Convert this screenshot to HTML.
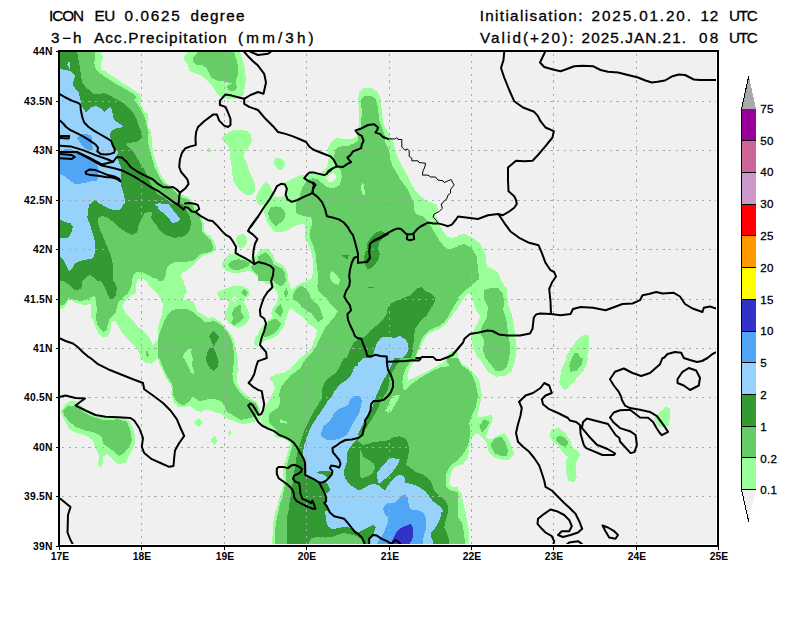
<!DOCTYPE html><html><head><meta charset="utf-8"><title>ICON EU precipitation</title>
<style>html,body{margin:0;padding:0;background:#fff}svg{display:block}text{font-family:"Liberation Sans",sans-serif;fill:#000}</style></head><body>
<svg width="800" height="618" viewBox="0 0 800 618">
<rect width="800" height="618" fill="#fff"/>
<defs><clipPath id="m"><rect x="60" y="52" width="656" height="492"/></clipPath></defs>
<rect x="60" y="52" width="656" height="492" fill="#f0f0f0" shape-rendering="crispEdges"/>
<g clip-path="url(#m)" shape-rendering="crispEdges">
<polygon fill="#99ff99" points="58,50 100.5,50 100.5,51.9 102.8,56.2 102.4,60.6 100.5,63.8 101.1,70 105.5,71.5 110.5,75 116.8,78.8 121.8,82.8 128,86.2 134.2,90.6 139.2,93.8 141.1,96.9 140.5,102.5 141.8,107.5 145.5,112.5 148.2,115 148.2,127 58,127"/>
<polygon fill="#99ff99" points="183,57.5 186.8,53.8 190.5,50 239.2,50 241.8,57.5 244.2,65 245.5,75 245.5,82.5 244.2,91.2 243,95.6 238,98.1 231.8,99.4 225.5,98.1 220.5,96.9 216.8,93.8 214.2,88.8 210.5,83.8 205.5,78.8 200.5,75 194.2,73.1 189.2,70.6 188,65 184.9,61.2"/>
<polygon fill="#99ff99" points="58,127 148.2,127 150.5,130.8 151.8,138.2 152.4,147 153.6,155.8 156.1,163.2 158,168.2 158,204 58,204"/>
<polygon fill="#99ff99" points="221.1,138.9 225.5,133.9 231.8,130.8 239.2,129.5 246.8,130.8 251.1,135.1 251.8,140.1 249.9,145.8 245.5,150.8 243.6,155.8 246.8,163.2 249.2,170.8 252.4,178.2 255.5,185.8 254.9,192 251.1,195.1 245.5,194.5 239.2,189.5 233.6,182 232.4,174.5 231.8,167 230.5,159.5 229.9,152 228,145.8 224.2,142"/>
<polygon fill="#99ff99" points="206.5,150.4 209.2,147.6 212,150.4 209.2,153.1"/>
<polygon fill="#99ff99" points="158,168.2 161.8,177 166.8,183.2 173,187 178,190.8 183,195.1 188,197 191.8,200.8 194.2,204 158,204"/>
<polygon fill="#99ff99" points="358.5,127 358.8,125 359.2,112.5 358,100 359.2,92.5 364.2,87.5 371.8,88 378,92.5 381,100 381.8,112.5 383,122.5 384.9,127"/>
<polygon fill="#99ff99" points="358,134.5 354.2,138.2 349.2,139.5 343,138.9 336.8,137.6 331.8,141.4 328.6,145.8 328,152 328.6,158.2 328,163.2 326.1,168.9 320.5,172.6 314.2,173.9 308,174.5 301.8,175.1 295.5,177 290.5,179.5 286.2,181.9 281.2,183.1 276.9,185.6 274.4,191.2 270,199.4 266.5,204 358,204"/>
<polygon fill="#99ff99" points="255.6,198.1 260,188.8 265.6,181.2 270,185.6 273.1,191.9 270,199.4 266.2,205 259.4,205.6 257.5,202.5"/>
<polygon fill="#99ff99" points="273,162.6 275.5,158.2 279.9,158 285.5,163.2 283.6,168.2 280.5,170.5 276.8,168.2"/>
<polygon fill="#99ff99" points="358,127 384.9,127 389.2,134.5 393,140.8 394.9,148.2 397.4,157 401.1,164.5 405.5,172 408.6,178.2 411.8,184.5 415.5,190.8 420.5,195.8 426.8,200.8 431.8,202.6 434.2,204 358,204"/>
<polygon fill="#99ff99" points="58,204 158,204 158,281 58,281"/>
<polygon fill="#99ff99" points="158,204 194.9,204 198,211.5 201.8,217.8 203.6,222.8 203.6,229 206.1,233.4 210.5,235.9 213.6,240.2 215.5,245.2 216.1,249.6 213,252.8 208,254 203,255.2 199.2,259 195.5,262.8 191.8,266.5 187.4,270.2 183,272.8 179.9,275.2 181.8,279 183.6,281 158,281"/>
<polygon fill="#99ff99" points="236.1,238.4 238,235.2 243,234 246.8,237.1 246.8,242.8 244.2,247.1 239.2,248.4 236.8,244.6"/>
<polygon fill="#99ff99" points="222.4,262.8 225.5,257.8 229.9,254 235.5,254 240.5,255.9 245.5,257.8 250.5,259 254.2,256.5 258,254 258,276.5 254.2,274 250.5,270.9 245.5,271.5 239.2,272.8 231.8,272.8 225.5,270.2 222.4,267.1"/>
<polygon fill="#99ff99" points="58,281 158,281 158,358 140.5,358 139.2,352.9 136.8,348.5 133,344.1 128,339.8 124.2,334.8 120.5,330.4 118,325.4 115.5,321 110.5,322.2 110.5,328.5 109.2,334.8 105.5,337.2 101.8,336.6 98.6,333.5 95.5,327.2 93.6,321 91.1,317.2 91.5,309.8 90.5,303.5 84.9,305.4 79.2,303.5 74.2,302.2 71.1,299.8 68.6,299.8 66.1,305.4 63,308.5 58,310.4"/>
<polygon fill="#99ff99" points="158,281 183.6,281 184.9,286 187.4,291.6 184.2,295.4 183,299.8 189.2,300.4 193.6,301.6 195.5,307.2 198,312.2 203,314.8 208,317.9 213,317.2 216.8,319.8 221.8,322.9 225.5,327.2 229.2,332.2 233,337.2 234.9,343.5 236.1,349.8 238,358 158,358"/>
<polygon fill="#99ff99" points="216.8,292.2 223,289.8 228,287.9 233,285.4 239.2,286 244.2,286.6 248.6,289.8 249.9,294.8 245.5,298.5 244.2,302.2 246.8,307.2 248.6,312.2 249.9,317.2 247.4,322.2 243,326 238,327.9 233,326 228.6,322.9 225.5,318.5 224.9,312.2 228,307.2 229.2,302.2 226.1,299.8 219.9,299.8 218.6,296"/>
<polygon fill="#99ff99" points="253.6,342.2 255.5,337.2 258,334.1 258,347.2 255.5,346"/>
<polygon fill="#99ff99" points="263.6,204 358,204 358,281 307.4,281 311.8,278 313,270.5 313,260.2 311.8,254 309.9,247.8 307.4,242.8 304.5,236.5 305.2,229 304.2,223.8 297.5,225 292.5,226.9 286.2,231.2 276.2,232.5 270.6,227.5 266.2,220 263.8,211.2"/>
<polygon fill="#99ff99" points="258,251.1 261.8,249.9 265.5,248 269.9,250.5 273.6,255.5 275.5,261.8 280.5,263.6 284.9,267.4 287.4,273 288,280.5 289.2,281 258,281"/>
<polygon fill="#99ff99" points="300.3,249 301.5,247.8 302.7,249 301.5,250.2"/>
<polygon fill="#99ff99" points="358,204 458,204 458,281 358,281"/>
<polygon fill="#99ff99" points="258,281 358,281 358,358 258,358"/>
<polygon fill="#99ff99" points="358,281 458,281 458,358 358,358"/>
<polygon fill="#99ff99" points="458,235.2 465.5,234 473,237.8 480.5,244 485.5,254 486.8,266.5 491.8,268.5 498,272.8 501.8,281.5 506.8,289 508,304 511.8,314 514.2,326.5 515.5,339 516.8,349 515.5,358 478,358 476.2,355 473.8,348.8 471.9,342.5 471.2,335 473.8,330 477.5,323.8 480,316.2 476.2,310 473.8,302.5 471.2,295 468,293.5 465,296.2 461.2,302.5 458,307"/>
<polygon fill="#99ff99" points="565.5,358 569.2,351.5 574.2,344 580.5,336.5 585.5,334 589.2,336.5 589.2,346.5 586.8,358"/>
<polygon fill="#99ff99" points="60.5,411.8 65.5,404.2 71.8,400.5 76.8,401.8 81.8,406.8 90.5,411.8 98,416.8 108,418 120.5,418 129.2,420.5 133,428 135.5,438 134.2,445.5 130.5,453 125.5,463 118,464.2 111.8,458 106.8,454.2 103,456.8 103,463 100.5,468 98,464.2 99.2,455.5 95.5,448 93,440.5 85.5,435.5 76.8,433 69.2,429.2 65.5,421.8"/>
<polygon fill="#99ff99" points="141.1,358 145.5,363 152.4,363.6 156.1,359.2 158,358 159.2,363 161.8,368 164.2,374.2 166.8,379.2 170.5,384.2 171.8,389.2 171.1,394.2 171.8,395.5 173.6,401.8 178,407.4 184.2,407.4 189.2,405.5 193,408 196.8,411.1 201.8,411.8 205.5,409.9 210.5,410.5 215.5,413 220.5,413.6 228,419.2 233,420.5 239.2,423 244.2,424.2 249.2,423 254.2,421.8 259.2,420.5 261.1,416.8 260.2,411.8 259.2,406.8 256.1,401.8 251.1,398.6 245.5,394.2 240.8,389 237,383 236.5,376.8 238.6,369.2 238,363 237.5,358"/>
<polygon fill="#99ff99" points="193.8,422.4 198.6,418 203.4,422.4 198.6,426.8"/>
<polygon fill="#99ff99" points="210.8,440.5 214.2,435.5 217.8,440.5 214.2,445.5"/>
<polygon fill="#99ff99" points="228,433.5 229.8,429.5 231.5,433.5 229.8,436"/>
<polygon fill="#99ff99" points="299.9,358 295.5,363 290.5,368.6 284.2,372.4 276.8,374.2 270.5,376.8 269.2,379.2 273,383 274.9,388 271.8,394.2 268.6,400.5 265.5,406.8 263,413 261.1,419.2 261.8,424.2 266.8,428 273,431.8 276.8,435 358,435 358,358"/>
<polygon fill="#99ff99" points="358,358 458,358 458,435 358,435"/>
<polygon fill="#99ff99" points="273,435 276.8,437.5 284.2,438.8 289.9,442.5 289.2,447.5 287.4,453.8 285.5,460 283.6,466.2 283,472.5 283.6,478.8 283,485 281.8,490 279.9,496.2 278,502.5 276.8,507.5 276.1,512 358,512 358,435"/>
<polygon fill="#99ff99" points="358,435 458,435 458,512 358,512"/>
<polygon fill="#99ff99" points="275.5,511 273.6,520 272.8,530 272.4,538.8 272,547 358,547 358,511"/>
<polygon fill="#99ff99" points="358,511 458,511 458,547 358,547"/>
<polygon fill="#99ff99" points="458,358 459,358 461.2,363 468.8,368 475,374.2 479.2,380.5 481.8,395.5 479.2,408 476.8,418 483,416.8 491.8,415 493,419.2 488,430.5 485.5,438 491.8,439.2 498,435.5 504.2,433 509.2,440.5 511.8,448 514.2,454.2 508,460.5 500.5,459.2 493,456.8 488,450.5 486.8,443 481.8,436.8 476.8,433 471.8,438 469.2,448 468,458 463,464.2 458,466"/>
<polygon fill="#99ff99" points="473,358 479.2,358 483,364.2 488,371.8 495.5,376.8 505.5,375.5 511.8,370.5 514.2,363 515.5,358"/>
<polygon fill="#99ff99" points="566.8,358 561.8,368 559.2,383 564.2,390.5 570.5,385.5 576.8,378 583,371.8 586.8,363 588,358"/>
<polygon fill="#99ff99" points="549.2,435.5 551.8,429.2 559.2,428 565.5,433 570.5,440.5 571.8,446.8 576.8,450.5 580.5,454.2 576.8,460.5 575.5,468 576.8,478 573,482.2 568,480.5 565.5,470.5 565.5,463 568,456.8 563,453 558,445.5 553,441.8"/>
<polygon fill="#99ff99" points="653.8,419.2 660,411.8 666.2,406.8 670,408 670,418 668.8,425.5 663.8,427.5 658.8,426.8"/>
<polygon fill="#99ff99" points="458,489.2 461.8,493 463,502.5 465.5,512.5 468,525 469.2,535 468.5,547 458,547"/>
<polygon fill="#f0f0f0" points="274.4,196.9 275,191.2 277.5,186.9 281.2,184.8 285,185.2 286.2,188.8 285.2,194.4 283.5,196.2 279.4,197"/>
<polygon fill="#f0f0f0" points="326.1,178.2 329.2,175.1 333,173.2 336.1,175.1 335.5,178.9 333,182 328.6,182"/>
<polygon fill="#f0f0f0" points="138,279.8 136.1,283.5 136.1,292.9 130.5,296 125.5,301 122.4,305.4 124.2,311 129.2,317.2 134.2,322.2 138,327.2 143,330.4 146.8,334.8 150.5,339.8 152.4,344.8 155.5,341.6 158,339.8 158,294.8 154.2,291 149.2,286 146.8,281 144.2,279.5"/>
<polygon fill="#f0f0f0" points="158,294.8 160.5,297.9 162.8,303.5 162.5,309.8 161.1,317.2 159.2,323.5 158,327.2"/>
<polygon fill="#f0f0f0" points="231.8,299.1 234.2,296 237.4,299.1 234.5,301.6"/>
<polygon fill="#f0f0f0" points="436.1,204 438,209 435.5,214 438,220.2 440.5,226.5 444.2,232.8 447.4,237.1 453,237.8 458,236.5 458,204"/>
<polygon fill="#f0f0f0" points="258,279.2 263,280.5 265.5,283.6 269.9,284.9 273,288 276.8,291.1 278,296.8 276.8,303 273,308 271.1,313 271.8,315.4 272.8,317.9 268.6,319.8 264.9,322.9 261.8,327.2 259.2,331 258,333.5"/>
<polygon fill="#f0f0f0" points="289.2,281 291.1,291.1 295.5,286.8 301.1,283 306.8,281.8 307.4,281"/>
<polygon fill="#f0f0f0" points="291.1,308 295.5,311.8 300.5,315.5 306.1,320 307.4,323.5 313,326.6 316.8,330.4 316.1,336 313.6,341 311.8,347.2 308,352.2 303,356 299.9,358 258,358 258,342.9 263,342 266.8,339.8 273,337.9 278,334.8 281.8,329.8 284.9,324.8 285.5,320 288,312.4"/>
<polygon fill="#f0f0f0" points="458,309.1 454.2,312.2 451.1,317.2 448,321 444.2,325.4 439.2,329.1 434.2,331 429.2,333.5 425.5,337.2 423,342.2 420.5,347.2 418,352.2 416.1,358 445.5,358 450.5,352.2 458,349.1"/>
<polygon fill="#66cc66" points="58,50 95.5,50 95.2,57.5 94.2,62.5 95.5,68.1 98,71.9 103,75.6 108,78.8 114.2,82.8 120.5,86.2 126.8,90 133,93.8 136.1,96.2 134.2,101.2 138,105 141.8,111.2 144.2,116.2 146.1,121.2 146.8,127 58,127"/>
<polygon fill="#66cc66" points="192.4,58.8 195.5,55 199.2,50 233.6,50 236.1,58.8 238,66.2 238,75 236.1,80 233,83.1 228,82.5 223,80.6 216.8,80.6 211.8,78.1 209.2,73.1 206.8,68.1 201.8,65 196.8,65 193.6,62.5"/>
<polygon fill="#66cc66" points="226.8,87.5 228.2,85.2 231.8,84 233,82.8 236.1,80.6 236.5,85.6 237,87.5 235.5,90 232,91 228.6,90"/>
<polygon fill="#66cc66" points="58,127 146.8,127 148.6,132 148,139.5 148.6,145.8 150.5,152 152.4,159.5 154.2,165.8 156.8,172 158,174.5 158,204 58,204"/>
<polygon fill="#66cc66" points="158,174.5 163,182.6 169.2,186.4 174.2,190.8 178,194.5 179.9,197 186.8,198.9 190.5,202 191.8,204 158,204"/>
<polygon fill="#66cc66" points="361,127 361,125 361.8,112.5 361,100 364.2,96.2 370.5,95.5 375.5,98.8 378,107.5 379.2,120 381.8,127"/>
<polygon fill="#66cc66" points="358,140.8 353,143.9 348,145.8 343,145.8 338,147.6 334.9,150.8 334.2,155.8 334.9,160.1 336.1,164.5 338,167 340.5,170.1 341.8,175.8 341.1,180.8 339.2,185.8 333,188.2 326.8,187 323,183.9 318,179.5 313,178.2 309.2,179.5 305.6,182.5 302.5,187.5 300.6,193.1 299.4,197.5 296.2,202.5 296,204 358,204"/>
<polygon fill="#66cc66" points="358,132 361,127 381.8,127 384.9,135.8 385.5,143.2 389.2,150.8 390.5,159.5 393,167 396.8,173.2 400.5,179.5 404.2,184.5 408,189.5 410.5,195.8 413,200.8 414.2,204 358,204"/>
<polygon fill="#66cc66" points="58,204 158,204 158,281 58,281"/>
<polygon fill="#66cc66" points="158,204 191.8,204 195.5,211.5 199.9,217.8 201.8,224 201.8,230.9 205.5,235.2 209.9,239 212.4,244 213,249 210.5,252.1 205.5,252.8 200.5,254 196.8,257.8 193,260.9 188,261.5 181.8,261.5 175.5,262.1 170.5,264 166.8,267.8 166.1,274 164.2,279 163,281 158,281"/>
<polygon fill="#66cc66" points="228,264 231.8,260.9 238,259.2 244.2,260.2 249.9,262.8 248,266.5 243,268.4 238,270.2 233,269.6 229.2,267.1"/>
<polygon fill="#66cc66" points="251.1,266.5 254.2,264 258,262.1 258,275.2 254.2,271.5 251.8,269"/>
<polygon fill="#66cc66" points="58,306 64.2,304.8 66.8,301 68.6,297.9 74.2,299.8 80.5,301 86.8,299.8 91.8,297.2 94.9,295.4 96.1,301 96.8,309.8 96.1,317.2 96.8,323.5 99.9,328.5 103.6,331.6 106.1,331 108,324.8 109.2,319.8 112.4,316.6 116.1,312.9 116.8,306 119.2,301 123,297.2 128,293.5 131.1,287.2 132.4,281 58,281"/>
<polygon fill="#66cc66" points="147,349.5 149,355 147,357.5 145.5,354"/>
<polygon fill="#66cc66" points="158,339.8 160.5,331 164.2,321 168.6,313.5 172.4,309.8 178,309.1 183,308.5 189.2,309.8 194.2,312.9 199.2,317.2 203.6,321.6 209.2,322.2 213,320.4 218,322.9 223,326.6 227.4,332.2 231.1,338.5 233,344.8 233.6,351 234.2,358 192.4,358 191.1,352.2 191.8,349.1 188.6,348.5 184.9,352.2 183,356 182.4,358 158,358"/>
<polygon fill="#66cc66" points="241.1,292.2 244.9,289.1 248.2,292.5 244.9,296.6"/>
<polygon fill="#66cc66" points="231.8,313.5 234.2,308.5 238,305.4 240.5,304.8 240.5,311 244.2,317.2 240.5,321 236.8,324.1 234.2,325.4 231.1,322.9 233,318.5"/>
<polygon fill="#66cc66" points="268.1,212.5 270.6,207.5 276.2,206.2 281.2,207.5 285.6,213.1 284.4,218.8 280,223.1 275.6,226.2 271.9,222.5 268.8,217.5"/>
<polygon fill="#66cc66" points="296,204 295.6,209 295.6,212.5 299.4,215 305,216.2 311.2,217.5 312.5,222.5 310.6,228.8 309.4,235 311.2,241.2 313.8,247 315.5,252.8 316.1,259 316.8,266.5 318,274 318,281 358,281 358,204"/>
<polygon fill="#66cc66" points="258,256.5 261.8,254 265.5,252.1 269.2,255.2 271.8,259 273.6,264 278,266.5 282.4,269 284.9,272.8 285.5,277.8 286.1,281 258,281"/>
<polygon fill="#66cc66" points="358,204 414.2,204 413.6,210.2 416.8,214.6 423,216.5 428,221.5 431.8,227.8 435.5,234 439.2,240.2 443.6,245.9 448,249 453,248.4 458,246.5 458,281 358,281"/>
<polygon fill="#66cc66" points="273,281 286.1,281 283.6,284.9 279.9,286.1 275.5,283"/>
<polygon fill="#66cc66" points="283.6,292.9 286.8,287.9 288,293.5 286.1,297.9"/>
<polygon fill="#66cc66" points="274.2,311 280.5,304.1 283.6,311 280.5,316.6"/>
<polygon fill="#66cc66" points="264.9,331 268,322.2 275.5,318.5 281.1,323.5 278,329.8 274.2,333.5 269.2,336 264.2,337.2 263,334.8"/>
<polygon fill="#66cc66" points="293,294.8 295.5,289.8 301.1,285.4 306.1,288.5 309.2,293.5 311.8,299.8 316.8,303.5 319.9,307.9 321.8,313.5 323,318.5 318,322.2 314.9,318.5 311.8,313.5 307.4,311 301.8,307.2 298,302.2 293.6,299.8"/>
<polygon fill="#66cc66" points="318,281 317.4,286 318,291 321.8,294.8 326.1,297.9 329.9,303.5 334.2,307.9 338,311 334.2,317.2 329.2,322.9 325.5,327.2 323,332.2 320.5,337.2 318,342.2 316.1,347.2 313,351 308,356 306.1,358 358,358 358,281"/>
<polygon fill="#66cc66" points="358,281 458,281 458,299.8 454.9,304.8 451.1,311 448,317.2 444.2,322.2 439.2,326 434.2,327.9 429.2,330.4 424.2,334.8 421.1,339.8 419.2,346 416.8,352.2 414.9,358 358,358"/>
<polygon fill="#66cc66" points="458,245.2 464.2,244 471.8,247.8 476.8,256.5 478,269 479.2,279 473,284 465.5,290.2 458,298"/>
<polygon fill="#66cc66" points="484.2,290.2 490.5,287.8 498,287.8 503,294 504.2,304 503,309 506.8,321.5 508,334 510.5,346.5 509.2,358 485.5,358 483,350.2 484.2,340.2 480.5,334 481.8,326.5 486.8,317.8 488,306.5 484.2,299"/>
<polygon fill="#66cc66" points="571.8,358 574.2,353.5 578,352.8 580.5,358"/>
<polygon fill="#66cc66" points="63,410.5 68,405.5 75.5,406.8 83,411.8 93,416.8 105.5,420.5 118,419.2 126.8,421.8 130.5,430.5 131.8,440.5 129.2,446.8 124.2,453 119.2,456 114.2,451.8 108,446.8 103,444.2 101.8,436.8 95.5,433 85.5,430.5 75.5,426.8 69.2,421.8 64.2,415.5"/>
<polygon fill="#66cc66" points="159.2,358 161.8,364.2 164.2,370.5 167.4,376.8 171.1,382.4 173,386.8 172.4,389.2 173.6,396.8 178,403 183.6,405.5 188,402.4 193,396.8 196.1,399.2 198.6,401.1 203,400.5 208,399.2 215.5,399.2 221.1,401.1 224.2,405.5 226.8,411.8 231.1,414.2 235.5,416.8 240.5,419.9 245.5,419.2 250.5,418 254.2,416.8 257.4,414.9 258.6,411.8 258,407.4 255.5,403 251.1,401.1 246.8,399.2 241.8,394.2 237.4,389.2 233.6,383 232.4,374.2 233.6,364.2 233.8,358"/>
<polygon fill="#66cc66" points="306.1,358 303,363 300.5,368 295.5,371.8 290.5,375.5 286.1,380.5 281.8,385.5 279.9,390.5 279.2,395.5 280.5,401.8 278.6,406.8 274.2,410.5 269.9,413 268.6,418 269.2,423 273,426.8 276.8,430.5 279.9,435 358,435 358,358"/>
<polygon fill="#66cc66" points="358,358 458,358 458,435 358,435"/>
<polygon fill="#66cc66" points="279.9,435 285.5,437.5 291.1,441.2 292.4,446.2 290.5,452.5 288.6,458.8 286.8,465 286.1,472.5 286.1,478.8 284.9,485 283.6,491.2 282.4,497.5 279.9,503.8 278.6,512 358,512 358,435"/>
<polygon fill="#66cc66" points="358,435 458,435 458,512 358,512"/>
<polygon fill="#66cc66" points="278.6,511 276.8,517.5 275.5,527.5 274.9,536.2 274.5,547 358,547 358,511"/>
<polygon fill="#66cc66" points="358,511 458,511 458,547 358,547"/>
<polygon fill="#66cc66" points="457,358 459,360 462,366 468,369.5 472,375 475.5,383 478,395.5 475.5,408 471.8,415.5 469.2,423 470.5,433 468,445.5 463,454.2 458,460"/>
<polygon fill="#66cc66" points="479.2,425.5 484.2,419.2 489.2,421.8 486.8,428 481.8,433"/>
<polygon fill="#66cc66" points="490.5,444.2 495.5,438 501.8,436.8 505.5,443 508,450.5 506.8,455.5 500.5,455.5 494.2,453"/>
<polygon fill="#66cc66" points="485.5,358 490.5,364.2 495.5,370.5 501.8,371 506.8,366.8 509.2,358"/>
<polygon fill="#66cc66" points="571.8,358 569.2,365.5 570.5,371.8 576.8,370.5 581.8,364.2 583,358"/>
<polygon fill="#66cc66" points="555.5,439.2 559.2,435.5 565.5,438 568.5,443 565.5,446.8 559.2,444.2"/>
<polygon fill="#66cc66" points="458,517.5 461.8,522.5 464.2,532.5 465,547 458,547"/>
<polygon fill="#99ff99" points="361.1,185.8 363,182.6 364.2,187 364.9,194.5 363,195.1 361.5,190.8"/>
<polygon fill="#99ff99" points="330.5,273 333,271.1 336.8,275.5 340.5,279.9 338,284.9 333,283 330.2,278.6"/>
<polygon fill="#99ff99" points="184,358 188,365.5 190.5,371.8 193.6,374.2 193.6,370.5 191.8,365.5 193,358"/>
<polygon fill="#99ff99" points="279.9,419.2 286.8,421.8 286.8,423.6 280.5,423"/>
<polygon fill="#99ff99" points="414.9,358 410.5,361.8 406.1,368 403.6,374.2 402.4,381.8 403,388 404.9,390.5 408,387.4 413,383 419.2,378.6 425.5,374.9 433,370.5 440.5,367.4 445.5,366.8 449.9,366.1 447.4,363 446.8,358"/>
<polygon fill="#99ff99" points="385.5,410.5 388,406.1 389.9,400.5 392.4,396.1 396.8,394.9 399.9,395.5 398,399.9 394.9,404.9 391.8,410.5 388.6,413.6"/>
<polygon fill="#99ff99" points="458,460.6 453.6,463.1 449.2,467.5 446.1,473.8 445.5,480 446.1,486.2 449.2,490 454.2,491.2 458,492.5"/>
<polygon fill="#f0f0f0" points="416.8,358 413,363 409.2,369.2 407.4,375.5 408,379.9 413,378.6 419.2,375.5 425.5,372.4 431.8,368.6 438,365.5 443,363 445.5,359.9 446.1,358"/>
<polygon fill="#f0f0f0" points="458,465 454.2,467.5 451.1,472.5 449.9,478.8 449.2,485 453,486.9 458,487.5"/>
<polygon fill="#339933" points="58,50 76.8,50 78.6,60 80.2,68.8 81.1,76.9 82.4,82.5 85.5,86.9 90.5,91.2 94.2,94.4 99.2,94 104.2,93.1 109.2,95 114.2,98.1 120.5,101.2 125.5,105 130.5,109.4 134.2,113.8 136.8,120 139.2,127 58,127"/>
<polygon fill="#339933" points="58,127 139.2,127 141.5,132 141.8,138.2 138,141.4 131.8,142.6 125.5,143.9 129.9,148.2 134.2,153.2 138,159.5 141.1,164.5 144.2,169.5 146.8,174.5 149.2,180.8 153,188.2 156.8,193.2 158,194.5 158,204 58,204"/>
<polygon fill="#339933" points="158,194.5 163,197 168,200.8 171.8,204 158,204"/>
<polygon fill="#339933" points="58,204 158,204 158,281 58,281"/>
<polygon fill="#339933" points="158,204 183,204 186.1,210.2 189.9,216.5 191.1,222.8 189.9,229 187.4,234 181.8,237.1 174.2,237.8 168,235.9 162.4,232.8 158,229"/>
<polygon fill="#339933" points="63,281 82.4,281 82.4,285.4 80.5,289.1 74.9,290.4 71.8,287.2 67.4,283.5"/>
<polygon fill="#339933" points="101.1,281 114.2,281 116.8,287.2 116.1,294.8 113,299.1 109.9,298.5 107.4,293.5 104.9,287.2"/>
<polygon fill="#339933" points="209.2,336 213.6,331 219.2,337.2 215.5,343.5 213.6,347.2 211.8,342.2"/>
<polygon fill="#339933" points="206.1,358 207.4,352.2 209.2,348.5 213.6,347.9 215.5,352.2 217.4,358"/>
<polygon fill="#339933" points="341.8,255.2 348.6,255.2 347.4,259.6"/>
<polygon fill="#339933" points="364.9,264 363.6,257.8 366.1,250.2 367.4,242.8 371.8,236.5 376.8,232.1 381.1,230.9 384.9,233.4 383,237.8 379.2,242.8 378,249 379.9,254 378.6,259 375.5,264 371.1,268.4 367.4,269"/>
<polygon fill="#339933" points="358,339.8 354.2,342.2 351.1,347.2 349.2,352.2 346.8,358 358,358"/>
<polygon fill="#339933" points="358,337.2 363,337.9 366.8,334.8 370.5,330.4 376.8,325.4 383,319.8 386.8,313.5 388,306 393,302.2 399.2,299.8 405.5,297.2 410.5,295.4 414.2,291 418,287.9 421.8,287.2 426.1,291.6 430.5,292.9 434.2,296.6 435.5,299.8 433,304.8 429.9,309.8 426.8,315.4 421.8,319.8 418,324.1 415.5,328.5 414.2,334.8 413.6,342.2 413,349.8 411.8,354.8 410.5,358 358,358"/>
<polygon fill="#339933" points="368,286.5 373.6,286.5 373.6,287.5 368,287.5"/>
<polygon fill="#339933" points="206.1,358 206.8,363 209.9,368 213.6,371.1 217.4,367.4 218.6,361.8 218,358"/>
<polygon fill="#339933" points="344.2,358 341.1,363 339.2,368 335.5,373 330.5,376.8 326.1,380.5 323,385.5 321.8,391.8 322.4,396.8 319.9,401.8 316.8,406.8 313.6,411.8 310.5,418 307.4,424.2 304.9,429.2 303,435 358,435 358,358"/>
<polygon fill="#339933" points="358,358 399.9,358 398,363 394.9,368 391.8,373 389.9,379.2 389.2,383 387.4,390.5 383,398 379.9,403 378,408 375.5,413 371.8,419.2 368.6,424.2 365.5,429.2 363.6,435 358,435"/>
<polygon fill="#339933" points="303,435 301.1,440 299.2,446.2 297.4,452.5 296.1,458.8 295.5,465 294.2,471.2 293.6,477.5 292.4,485 291.1,491.2 290.5,497.5 289.2,505 288.6,512 358,512 358,435"/>
<polygon fill="#339933" points="358,441.2 363,445 368,443.8 374.2,441.9 383,441.2 389.2,440 393,437.5 399.2,436.2 404.9,438.1 408,442.5 409.2,450 408,457.5 406.1,464.4 410.5,468.1 416.8,472.5 423,474.4 428,478.1 431.8,483.1 433,488.8 436.8,493.8 441.8,497.5 445.5,501.2 448,506.2 448,512 358,512"/>
<polygon fill="#339933" points="288,511 287.4,516.2 286.8,525 287.4,533.8 287.4,547 358,547 358,511"/>
<polygon fill="#339933" points="358,511 447.8,511 447.4,515 445.5,521.2 444.2,527.5 446.8,532.5 448.6,538.8 449.9,547 358,547"/>
<polygon fill="#66cc66" points="98,217.8 101.8,215.9 108,217.8 114.2,222.8 120.5,228.4 126.1,232.1 131.8,235.2 137.4,232.1 138.6,225.2 141.8,219 144.2,213.4 150.5,211.5 152.4,213.4 151.1,217.8 154.2,222.8 158,227.1 158,281 113,281 112.8,274 113,266.5 111.8,259 109.2,251.5 106.1,244 103,236.5 99.9,229.6 98,222.8"/>
<polygon fill="#66cc66" points="83,281 86.1,277.1 89.9,275 94.2,277.8 97.4,281"/>
<polygon fill="#66cc66" points="359.5,452 360.5,450 363.6,457.5 369.2,460 374.2,463.8 374.9,468.8 371.8,473.8 366.8,476.9 361.8,478.1 359.5,477"/>
<polygon fill="#66cc66" points="308,547 309.2,541.2 311.8,538.1 318,536.9 325.5,537.5 331.8,536.9 338,535 343,533.1 348,533.8 353,535 358,536.2 358,547"/>
<polygon fill="#66cc66" points="358,536.2 362,538 364,547 358,547"/>
<polygon fill="#99ff99" points="131.8,281 133,275.2 136.8,272.1 143,272.5 148,275.2 153,277.8 158,279 158,281"/>
<polygon fill="#f0f0f0" points="136.1,281 138,279 143,278.8 146.8,281"/>
<polygon fill="#96d2fa" points="58,68.8 65.5,69.8 71.8,71.9 75.5,75.6 73.6,80 73,85 75.5,88.8 78.6,92.5 79.9,97.5 81.1,102.5 83,108.1 85.8,112.5 88.6,110 91.1,106.9 96.8,106.2 101.1,108.8 104.9,111.9 108,108.8 111.1,106.9 112.4,112.5 113,117.5 115.5,121.2 120.5,124.4 124.2,127 58,127"/>
<polygon fill="#96d2fa" points="67.4,64.4 69.2,61 70.5,64.4 69.5,68.8"/>
<polygon fill="#96d2fa" points="58,127 124.2,127 116.8,128.2 111.1,130.8 109.9,135.8 111.8,142 114.2,148.2 118,152 116.8,157 119.2,163.2 121.8,169.5 120.5,177 120.5,183.2 122.4,189.5 124.2,195.8 125.5,204 58,204"/>
<polygon fill="#96d2fa" points="158,202.6 163,204 158,204"/>
<polygon fill="#96d2fa" points="58,204 89.2,204 88,210.2 87.4,217.8 89.9,224 91.8,231.5 94.2,237.8 95.5,245.2 94.9,252.8 93,258.4 86.8,259.6 80.5,260.9 74.9,263.4 72.4,267.8 69.2,270.9 66.8,266.5 63.6,260.2 58,254 58,238.4 66.8,238.4 69.9,235.2 71.8,230.9 73,226.5 70.5,223.4 65.5,222.1 58,218.4"/>
<polygon fill="#96d2fa" points="101.1,204 105.5,207.1 111.8,209.6 118.6,210.2 121.8,207.8 123.6,204"/>
<polygon fill="#96d2fa" points="154.2,204 158,206.5 158,204"/>
<polygon fill="#96d2fa" points="158,204 168.6,204 174.2,211.5 179.9,218.4 179.2,220.9 173,223.4 168,217.8 163,212.8 158,209"/>
<polygon fill="#96d2fa" points="373,354.8 374.9,348.5 377.4,342.2 380.5,338.5 384.2,336.6 389.2,337.2 395.5,337.9 399.9,335.4 401.8,337.2 406.1,339.8 408,343.5 408.6,348.5 406.8,353.5 403,358 372.4,358"/>
<polygon fill="#96d2fa" points="358,365.5 354.2,366.8 353,370.5 351.1,375.5 346.8,379.9 341.8,383 338,386.8 334.2,391.8 331.8,396.8 328,400.5 324.9,405.5 321.8,410.5 318,415.5 314.9,420.5 311.8,425.5 309.2,430.5 308,435 358,435"/>
<polygon fill="#96d2fa" points="363,358 394.2,358 392.4,363 389.2,369.2 386.1,375.5 382.4,381.8 379.9,388 376.8,394.2 374.9,399.2 373,405.5 370.5,411.8 366.8,418 363,424.2 359.9,430.5 358,434.2 358,362.4 361,361"/>
<polygon fill="#96d2fa" points="308,435 306.1,440 304.2,445 303,451.2 303.6,457.5 304.9,463.8 305.5,470 306.1,475 310.5,476.9 315.5,479.4 320.5,482.5 323,485 324.9,490 326.1,496.2 325.5,501.2 326.8,506.2 328,512 358,512 358,490 354.2,487.5 349.2,483.8 345.5,478.8 343.6,472.5 345.5,466.2 347.4,460 346.8,453.8 349.2,448.8 353,443.8 356.8,440 358,438.8 358,435"/>
<polygon fill="#96d2fa" points="377.4,472.5 381.1,467.5 384.9,463.8 388,459.4 393,458.1 399.9,459.4 398,463.8 394.9,468.8 390.5,473.8 386.1,478.1 381.8,481.9 378.6,483.8 377.4,478.8"/>
<polygon fill="#96d2fa" points="358,490.6 363,488.8 368,485.6 373,483.8 378,485 381.8,488.1 384.9,490.6 387.4,486.2 391.1,481.2 395.5,476.9 399.9,474.4 404.2,476.9 405.5,482.5 410.5,483.8 415.5,485 420.5,488.1 425.5,491.2 429.2,496.2 433,501.2 438,505 441.8,508.8 443.6,512 358,512"/>
<polygon fill="#96d2fa" points="325.2,511 325.5,515 326.1,521.2 328,526.2 332.4,529.4 338,528.1 344.2,526.9 349.2,527.5 354.2,530 358,531.9 358,511"/>
<polygon fill="#96d2fa" points="358,511 440.9,511 441.1,515 439.2,521.2 435.5,527.5 431.1,532.5 430.5,536.2 432.4,540 434.2,547 358,547"/>
<polygon fill="#339933" points="91.1,204 94.9,199.2 99.9,204"/>
<polygon fill="#339933" points="316.8,471.9 323,470.6 329.2,471.2 331.8,472.5 329.9,476.2 327.4,478.1 324.2,475 320.5,473.8 317.4,473.1"/>
<polygon fill="#339933" points="321.8,483.1 326.1,481.9 328,485 330.5,490 328.6,491.9 326.1,493.8 324.2,488.8"/>
<polygon fill="#339933" points="358,532.5 363,530 368,527.5 373,525 375.5,527.5 374.2,532.5 371.8,536.2 369.2,540 368,547 358,547"/>
<polygon fill="#66cc66" points="358,537.5 362,539 364,547 358,547"/>
<polygon fill="#50a5f5" points="76.8,137.6 83.6,133.9 89.9,134.8 92.4,137.6 91.5,142.6 93,147 93.6,150.1 88,150.1 83,147 79.9,142.6"/>
<polygon fill="#50a5f5" points="58,151.4 65.5,148.9 71.8,149.5 76.8,152 83,153.9 89.2,156.4 94.2,160.1 96.8,164.5 98.6,169.5 98,177 96.8,180.8 90.5,181.4 85.5,182.6 75.5,184.5 70.5,180.8 65.5,177 58,173.2"/>
<polygon fill="#50a5f5" points="358,395.5 354.2,395.5 350.5,399.2 348,404.9 343,407.4 338,409.2 334.2,413 331.8,418 328,423 323.6,426.1 321.8,430.5 321.1,435 347,435 349.5,430 352,425 355,420 358,415"/>
<polygon fill="#50a5f5" points="358,395.5 361.1,396.8 361.8,401.8 360.5,408 359.2,413 358,414.9"/>
<polygon fill="#50a5f5" points="321.1,435 323,437.5 326.8,439.8 333,440.2 339.2,438.8 344.2,436.5 347,435"/>
<polygon fill="#50a5f5" points="383,508.8 384.9,505 388.6,502.5 394.2,503.1 398,500 401.8,495.6 405.5,494.4 408,497.5 408.6,503.8 409.9,508.8 414.2,510 419.2,510.6 423,512.5 425.5,517.5 426.1,523.8 425.5,530 423.6,536.2 423,541.2 423.6,547 376.8,547 378,541.2 381.8,536.2 384.9,530 387.4,523.8 388,517.5 384.9,513.8"/>
<polygon fill="#3232c8" points="391.1,547 392.4,540 394.9,535 397.4,530.6 401.8,527.5 406.8,525.6 409.9,523.8 412.4,526.2 413,532.5 412.4,538.8 410.5,542.5 408.6,547"/>
</g>
<g stroke="#aaa" stroke-width="1" stroke-dasharray="2.2,4.4" shape-rendering="crispEdges">
<line x1="141.5" y1="54" x2="141.5" y2="544"/>
<line x1="224.5" y1="54" x2="224.5" y2="544"/>
<line x1="306.5" y1="54" x2="306.5" y2="544"/>
<line x1="389.5" y1="54" x2="389.5" y2="544"/>
<line x1="471.5" y1="54" x2="471.5" y2="544"/>
<line x1="553.5" y1="54" x2="553.5" y2="544"/>
<line x1="636.5" y1="54" x2="636.5" y2="544"/>
<line x1="62" y1="496.5" x2="716" y2="496.5"/>
<line x1="62" y1="447.5" x2="716" y2="447.5"/>
<line x1="62" y1="397.5" x2="716" y2="397.5"/>
<line x1="62" y1="348.5" x2="716" y2="348.5"/>
<line x1="62" y1="299.5" x2="716" y2="299.5"/>
<line x1="62" y1="249.5" x2="716" y2="249.5"/>
<line x1="62" y1="200.5" x2="716" y2="200.5"/>
<line x1="62" y1="150.5" x2="716" y2="150.5"/>
<line x1="62" y1="101.5" x2="716" y2="101.5"/>
</g>
<g clip-path="url(#m)" fill="none" stroke="#000" stroke-width="2" stroke-linejoin="round" stroke-linecap="round">
<polyline points="60.2,94.4 65.5,97.5 71.8,100.6 78.6,103.1 80.5,105 80.8,110 82.4,117.5 84.2,122.5 88.6,127 94.2,130.8 100.5,134.5 106.8,138.2 111.1,140.8 113,145.8 114.9,149.5 114.2,152.6 110.5,153.9 105.5,154.5 100.5,153.9 97.4,151.4 98,147.6 95.5,144.5 89.2,140.1 83,136.4 76.8,133.2 70.5,130.1 66.1,127 63.6,124 60.2,120.6"/>
<polyline points="60.2,136 69.2,136 68.6,138.5 60.2,138"/>
<polyline points="60.2,145.8 70.5,146.4 83,150.1 95.5,155.1 108,159.5 113,161.8 116.8,157 121.8,157.6 126.8,162 130.5,167 138,172 145.5,175.8 153,179.5 158,183.9 163,187 168,187.6 173,187 176.8,189.5 179.9,192.6"/>
<polyline points="60.2,152 76.8,152 89.2,157.6 101.8,164.5 113,161.8"/>
<polyline points="76.8,152 89.2,158.6 101.8,165.5 114.2,168.2 123,170.8 133,175.8 143,182 150.5,187 158,190.8 163,194.5 169.2,198.9 174.2,202.6 176.8,204 179.9,206.5 183.6,209.6 184.9,207.1 188,207.8 191.8,211.5 195.5,212.1 199.2,209 198,205.2 195.5,204 190,203 185,203.5"/>
<polyline points="85.5,172 89.2,169.5 95.5,170.1 101.8,172.6 108,175.1 114.2,176.4 119.2,178.9 120.5,181.4 116.8,178.9 111.8,177.6 105.5,177 98,175.8 90.5,175.1 86.1,173.9 85.5,172"/>
<polyline points="60.2,153.9 71.8,155.1 74.9,157 71.8,158.9 60.2,158.2"/>
<polyline points="198,127 196.1,132 195.5,138.2 195.8,145.1 190.5,146.4 185.5,148.2 181.8,153.2 179.9,159.5 179.2,167 181.1,172 184.9,176.4 187.4,179.5 188.6,183.9 185.5,188.2 179.9,192.6 179.2,197 178.6,204"/>
<polyline points="244.2,51.9 248,56.2 253,61.2 258,65.6 264.2,73.8 266,82.5 263.5,93.8 258,92 250.5,95 244.2,98.8 238,97.2 231.8,95.6 225.5,94.4 219.9,100.6 219.9,105 225.5,106.9 228,112.5 230.5,118.8 230.5,125 228,127 224.2,125.6 219.2,120.6 216.8,114.4 213,114.6 204.2,121.2 198,127"/>
<polyline points="250.5,51.9 258,55 268,53.8 270.5,52"/>
<polyline points="244.2,98.8 244.2,103.8 249.2,106.9 258,110 265.5,118.8 273,126.2 278,132 285.5,133.9 293,136.4 300.5,139.5 306.1,142 309.2,146.4 313,149.5 319.2,152 325.5,154.5 330.5,156.4 333.6,159.5 336.1,164.5 336.8,166.4"/>
<polyline points="336.8,166.4 343,167 347.4,163.9 351.1,162 349.2,160.1 347.4,157.6 350.5,155.1 353,151.4 358,149.5 361.1,148.2 361.8,144.5 363.6,140.8 361.8,135.8 358,133.9 355.5,130.5 360.5,128.8 368,125 374.2,124.2 378,127.5 377.4,129.5 375.5,132.6 379.9,133.9 383,137 388,138.9"/>
<polyline stroke-width="1" points="388,138.9 395.5,138.9 396.8,137.6 398,139.5 401.8,139.5 401.8,147 404.9,150.1 407.4,148.9 409.2,150.8 409.2,156.4 411.8,158.2 411.8,160.8 418,160.8 419.2,162.6 425.5,163.2 424.9,167 423,170.8 422.4,175.1 428,175.1 430.5,177 435.5,177 438,180.1 443,180.8 444.2,182.6 448,180.8 451.1,179.5 452.4,182 454.2,185.1 452.4,187 450.5,189.5 450.5,193.2 448,195.1 446.8,198.9 444.2,200.8 441.8,204 441.1,204 442.4,208.4 439.2,211.5 434.2,214 433,217.1 436.1,220.2 438,223.4"/>
<polyline points="336.8,166.4 331.8,168.9 328.6,170.8 326.8,173.9 324.2,175.1 319.2,173.9 314.2,172.6 309.2,172.6 306.1,175.8 304.2,178.2 308,180.8 313,183.2 314.2,186.4 313,189.5 312.4,192.6"/>
<polyline points="331.8,168.9 330,171 327.5,172.5"/>
<polyline points="312.5,193.1 303.8,196.9 297.5,200 291.9,201.9 287.5,199.4 285.6,194.4 286.9,188.8 285,184.4 281.2,183.8 276.9,186.2 274.4,191.2 270,198.8 263.8,207.5 257.5,217.5 254.2,222 250.5,226.5 248,230.9 253,234.6 257.4,239 254.9,244 253.6,250.2 253,256.5 254.2,264 258,262.1 264.2,263.4 270.5,265.9 273.6,269 273,275.2 271.1,281 272.4,287.2 267.4,292.2 264.2,297.2 261.8,303.5 259.9,309.8 260.5,316 264.2,318.5 266.1,323.5 264.2,331 261.8,337.2 259.9,344.8 263,348.5 266.1,352.2 266.8,358 261.8,359.9 258,361.1 256.1,366.8 254.2,374.2 251.1,379.9 248.6,383 253,386.8 258,389.9 261.8,391.1 263,398 264.2,404.2 263,410.5 261.1,414.2 258.6,414.9 256.1,410.5 253,405.5 250.5,403.6 248.2,405.5 250.5,409.2 254.2,414.9 258,421.8 261.8,425.5 268,428.6 274.2,431.1 279.2,435 284.2,436.9 289.2,439.4 293.6,442.5 296.8,446.9 299.9,452.5 303,457.5 304.9,461.9 305.2,467.5 305.2,475 309.2,476.9 314.2,479.4 319.2,482.5 321.1,486.2 323,490 324.9,493.8 326.1,497.5 326.1,501.2 324.2,503.1 326.8,506.2 329.9,512.5 334.2,516.2 339.2,517.5 344.2,518.8 348,523.1 351.8,528.1 355.5,532.5 358,533.8 361.8,537.5 364.2,542.5 364.9,546"/>
<polyline points="195.5,212.1 200.5,215.9 208,220.2 212.4,220.9 216.8,225.2 221.8,230.9 225.5,234.6 229.9,237.1 233,241.5 236.1,247.1 235.5,252.8 239.2,255.2 245.5,258.4 250.5,261.5 254.2,264"/>
<polyline points="258,216.5 254.2,221.5 251.1,226.5"/>
<polyline points="312.5,193.1 313.1,187.5 315.6,185 313.1,182.5"/>
<polyline points="312.5,193.1 317.5,196.9 321.9,201.9 325,208.8 326.9,216.2 332.5,217.5 338.8,219.4 343.8,222.5 348.1,227.5 350,231.2 353,235.2 354.9,241.5 356.8,249 358,254 358,256.5 354.2,257.8 351.8,262.8 349.9,270.2 349.2,276.5 349.9,281 349.2,286 346.1,291 344.2,296.6 346.8,301 349.9,305.4 351.1,310.4 347.4,314.1 348,319.8 350.5,326 353,331 354.9,336 358,338.5 361.1,338.5 363,343.5 365.5,349.8 367.4,356 370.5,356.6 375.5,354.8 380.5,356 386.8,356.6 386.8,358 387,364.2 388,369.9 391.1,375.5 393,381.1 393,386.8 391.1,391.8 388,396.1 383.6,399.9 378.6,401.1 373.6,401.1 371.1,404.2 370.5,410.5 368,416.1 364.9,420.5 365.5,424.2 363.6,429.2 362.4,435 358,438.1 351.8,439.4 345.5,440 340.5,442.5 335.5,446.2 332.4,448.1 333,452.5 336.1,456.2 339.2,460 340.5,463.8 339.2,467.5 335.5,466.2 331.1,465.6 329.9,468.1 332.4,471.2 331.8,474.4 329.2,477.5 326.1,480.6 323,482.2 319.2,482.5"/>
<polyline points="358,262.8 366.8,262.1 369.9,257.8 369.2,251.5 369.9,244 374.2,240.2 380.5,237.1 388,232.8 394.2,229.6 398,228.4 401.1,229 404.9,232.8 407.4,234.6 413,234 416.8,229.6 420.5,226.5 425.5,224 428,222.5 433,223.4 438,223.4 443,224.6 448,226.2 451.8,224.6 455.5,220.2 458,216.5 468,217.8 478,219 488,215.2 498,214 503,215.2 509.2,211.5 514.2,207.8 516.8,204 516,200 514.2,196.2 508.5,191.2 508,180 508,167.5 516,160.8 524.2,161.2 532.5,160.8 538,155 545.5,146.2 552.5,137.5 553.8,131.2 545.5,127.5 540.5,121.2 538,116.2 534.2,111.8 523,107.5 514.2,101.2 509.2,90 504.2,77.5 501,68 503.5,60 504.2,52"/>
<polyline points="358,256.5 358,262.8"/>
<polyline points="366.8,262.1 369.9,257.8"/>
<polyline points="374.2,240.8 380.5,238.1 388,233.8"/>
<polyline points="407.4,234.6 406.8,239 409.9,240.2 414.2,239 413.6,234.6"/>
<polyline points="545,52 541.8,58.8 540,62.5 544.2,67 553,69.5 560.5,71.2 565.5,69.5 574.2,66.2 583,65.8 593,66.2 600.5,70 608,71.8 618,72.5 628,75 638,77.5 645.5,80.5 651.8,82.5 657.5,81.8 665,80.5 672.5,76.2 678.8,74.5 685,75 693.8,79.5 700,80 717.5,80"/>
<polyline points="499.2,215.2 504.2,222.8 510.5,231.5 519.2,237.8 529.2,242.8 538.5,245.2 541.8,252.8 545.5,262.8 550.5,270.2 554.2,272 556,276.5 551.8,282.8 549.2,289 550.5,301.5 551,314"/>
<polyline points="416.1,358 421.1,358 419.2,360.5 413,360.2 405.5,361.1 395.5,361.5 386.8,361.8"/>
<polyline points="458,348.5 452.5,355 450.5,356 445.5,358 440.5,359.9 436.1,359.9 434.2,358"/>
<polyline points="421.8,357 433,357"/>
<polyline points="458,348.5 463.1,342.5 464.4,338.8 470,334 478.8,332.5 487.5,330.6 492.5,331 498.8,334.4 507.5,335.6 520,335.6 530,333.5 532.5,328.8 533.8,317.5 536.2,314.4 540,313.5 551,314 560.5,315.2 570.5,314 573,309 580.5,307 593,307.8 605.5,310.2 612.5,307.8 622.5,304 632.5,303.5 640,300.2 642.5,295.2 648.8,294 656.2,292 662.5,293.5 673.8,292.8 680,296.5 685,304 692.5,308.5 702.5,312 703.8,307.8 710,306.5 717.5,309"/>
<polyline points="663.8,358 667.5,354 675,352 681.2,352.8 683.8,358 690,360 697,362 702,361 707.5,358 712.5,354 717.5,351.5"/>
<polyline points="60.2,338.5 65.5,341 73,343.5 78,347.2 83,352.2 88,356.6 90.5,358 98,364.2 108,369.2 120.5,374.2 133,379.2 143,383 144.2,389.2 153,395.5 163,403 170.5,410.5 176.8,419.2 180.5,428 184.2,436 179.2,443 175,450.5 174.2,458 173.5,466 169.2,466.8 160.5,463 151.8,459.2 144.2,453 141.8,446.8 143,438 139.2,428 134.2,420.5 130.5,418 118,417.2 105.5,416.8 95.5,415 85.5,410.5 75.5,405.5 80.5,401.8 85,398.5 75.5,398 65.5,395.5 60.5,396.8"/>
<polyline points="60.5,498.8 70.5,507 68,515 67.5,532.5 70.5,540 73.5,545.5"/>
<polyline points="276.8,468.8 278.6,466.9 283,466.9 288,468.1 291.1,465.6 294.9,464.8 299.2,466.9 301.8,468.8 301.1,471.9 298,473.8 294.2,475.6 293,478.8 295.5,481.9 299.2,483.1 299.9,487.5 300.5,493.8 302.4,498.8 308,501.2 311.1,503.1 312.4,500.6 314.2,505 315.5,508.8 313,508.8 308,506.9 301.8,503.8 296.8,501.2 294.2,497.5 293.6,492.5 291.8,488.8 288,485 283,481.2 278.6,478.1 276.8,473.8 276.8,468.8"/>
<polyline points="369.2,546 369.2,538.8 373,535 376.8,535.6 381.8,538.8 386.8,541.2 391.1,543.8 395.5,540 399.2,542.5 401.8,546"/>
<polyline points="519.2,401.8 521.8,408 520.5,415.5 518,424.2 516,433 518,441.8 523,446.8 529.2,451.8 534.2,458 539.2,465.5 541.8,473 544.2,480.5 545.5,486.8 551.8,490.5 558,496.8 564.2,503 569.2,507.5 575.5,513.8 579.2,521.2 582.2,528.8 578,532.5 570.5,535 563,537 558,535 561.8,531.2 569.2,531.2 571.8,526.2 569.2,520 564.2,515 556.8,511.2 550.5,509.5 544.2,513.8 538,518.8 537.5,523.8 541.8,528.8 545.5,532.5 551.8,536.2 554.2,541.2 553,545.5"/>
<polyline points="519.2,401.8 525.5,395.5 533,393 540.5,388 544.2,383 549.2,385.5 551.8,393 545.5,395.5 541.8,399.2 543,404.2 549.2,409.2 558,413 568,418 570,420.6 576.2,421.9 580,425 580.6,433.8 583.8,445 586.2,448.1 602.5,455 613.8,455 615.2,453.5 607.5,449 596.9,444.8 588.8,436.2 581.9,427.8 583.1,421.9 586.9,418.5 608.1,424 615.6,435 619.4,438.1 620,441.5 628.8,451.2 630.6,453.1 634.4,452.1 636.9,445 635.6,435 630,431.2 620,428.1 613.1,421.9 610,417.5 613.8,412.5 620,410.2 630,409.8 640,417.5 648.1,417.8 653.1,421.9 656.2,427.5 659.4,432.5 661.9,435.2 668.1,431.9 665,427.2 661.2,421.9 656.9,416.2 650,411.9 640,409.8 630,408.1 625,405.6 621.9,400 621.2,397 618.8,391.8 613.8,385.5 610,379.2 615,371.8 623.8,368.5 632.5,373 641.2,376 650,373 660,364.2 662.5,358"/>
<polyline points="565.5,545.5 569.2,542.5 578,541.2 581.8,543.8 582.5,545.5"/>
<polyline points="602.5,525.5 608,527.5 614.2,531.2 618,535 615.5,538.8 609.2,537.5 605.5,531.2 602.5,525.5"/>
<polyline points="677.5,379.2 682.5,371.8 688.8,368 696.2,370.5 700,378 698.8,385.5 690,390 683.8,385.5 677.5,383 677.5,379.2"/>
</g>
<rect x="59.0" y="51.0" width="659.0" height="495.0" fill="none" stroke="#000" stroke-width="2" shape-rendering="crispEdges"/>
<g stroke="#000" stroke-width="1" shape-rendering="crispEdges">
<line x1="59.5" y1="547" x2="59.5" y2="550"/>
<line x1="141.5" y1="547" x2="141.5" y2="550"/>
<line x1="224.5" y1="547" x2="224.5" y2="550"/>
<line x1="306.5" y1="547" x2="306.5" y2="550"/>
<line x1="389.5" y1="547" x2="389.5" y2="550"/>
<line x1="471.5" y1="547" x2="471.5" y2="550"/>
<line x1="553.5" y1="547" x2="553.5" y2="550"/>
<line x1="636.5" y1="547" x2="636.5" y2="550"/>
<line x1="718.5" y1="547" x2="718.5" y2="550"/>
<line x1="56" y1="546.5" x2="58" y2="546.5"/>
<line x1="56" y1="496.5" x2="58" y2="496.5"/>
<line x1="56" y1="447.5" x2="58" y2="447.5"/>
<line x1="56" y1="397.5" x2="58" y2="397.5"/>
<line x1="56" y1="348.5" x2="58" y2="348.5"/>
<line x1="56" y1="299.5" x2="58" y2="299.5"/>
<line x1="56" y1="249.5" x2="58" y2="249.5"/>
<line x1="56" y1="200.5" x2="58" y2="200.5"/>
<line x1="56" y1="150.5" x2="58" y2="150.5"/>
<line x1="56" y1="101.5" x2="58" y2="101.5"/>
<line x1="56" y1="51.5" x2="58" y2="51.5"/>
</g>
<g font-size="10.3" font-weight="bold">
<text x="60.0" y="560.2" text-anchor="middle">17E</text>
<text x="142.0" y="560.2" text-anchor="middle">18E</text>
<text x="225.0" y="560.2" text-anchor="middle">19E</text>
<text x="307.0" y="560.2" text-anchor="middle">20E</text>
<text x="390.0" y="560.2" text-anchor="middle">21E</text>
<text x="472.0" y="560.2" text-anchor="middle">22E</text>
<text x="554.0" y="560.2" text-anchor="middle">23E</text>
<text x="637.0" y="560.2" text-anchor="middle">24E</text>
<text x="719.0" y="560.2" text-anchor="middle">25E</text>
<text x="52.6" y="550.4" text-anchor="end" letter-spacing="0.2">39N</text>
<text x="52.6" y="500.4" text-anchor="end" letter-spacing="0.2">39.5N</text>
<text x="52.6" y="451.4" text-anchor="end" letter-spacing="0.2">40N</text>
<text x="52.6" y="401.4" text-anchor="end" letter-spacing="0.2">40.5N</text>
<text x="52.6" y="352.4" text-anchor="end" letter-spacing="0.2">41N</text>
<text x="52.6" y="303.4" text-anchor="end" letter-spacing="0.2">41.5N</text>
<text x="52.6" y="253.4" text-anchor="end" letter-spacing="0.2">42N</text>
<text x="52.6" y="204.4" text-anchor="end" letter-spacing="0.2">42.5N</text>
<text x="52.6" y="154.4" text-anchor="end" letter-spacing="0.2">43N</text>
<text x="52.6" y="105.4" text-anchor="end" letter-spacing="0.2">43.5N</text>
<text x="52.6" y="55.4" text-anchor="end" letter-spacing="0.2">44N</text>
</g>
<text transform="translate(49.04,20.7) scale(1.06,1)" font-size="14.4" stroke="#000" stroke-width="0.3" textLength="32.98" lengthAdjust="spacing">ICON</text>
<text transform="translate(94.62,20.7) scale(1.06,1)" font-size="14.4" stroke="#000" stroke-width="0.3" textLength="19.38" lengthAdjust="spacing">EU</text>
<text transform="translate(124.50,20.7) scale(1.06,1)" font-size="14.4" stroke="#000" stroke-width="0.3" textLength="52.00" lengthAdjust="spacing">0.0625</text>
<text transform="translate(190.42,20.7) scale(1.06,1)" font-size="14.4" stroke="#000" stroke-width="0.3" textLength="51.09" lengthAdjust="spacing">degree</text>
<text transform="translate(51.12,42.6) scale(1.06,1)" font-size="14.4" stroke="#000" stroke-width="0.3" textLength="28.77" lengthAdjust="spacing">3−h</text>
<text transform="translate(93.92,42.6) scale(1.06,1)" font-size="14.4" stroke="#000" stroke-width="0.3" textLength="125.19" lengthAdjust="spacing">Acc.Precipitation</text>
<text transform="translate(238.12,42.6) scale(1.06,1)" font-size="14.4" stroke="#000" stroke-width="0.3" textLength="71.23" lengthAdjust="spacing">(mm/3h)</text>
<text transform="translate(479.66,20.7) scale(1.06,1)" font-size="14.4" stroke="#000" stroke-width="0.3" textLength="96.94" lengthAdjust="spacing">Initialisation:</text>
<text transform="translate(591.58,20.7) scale(1.06,1)" font-size="14.4" stroke="#000" stroke-width="0.3" textLength="93.75" lengthAdjust="spacing">2025.01.20.</text>
<text transform="translate(700.62,20.7) scale(1.06,1)" font-size="14.4" stroke="#000" stroke-width="0.3" textLength="16.55" lengthAdjust="spacing">12</text>
<text transform="translate(729.04,20.7) scale(1.06,1)" font-size="14.4" stroke="#000" stroke-width="0.3" textLength="27.04" lengthAdjust="spacing">UTC</text>
<text transform="translate(479.88,42.6) scale(1.06,1)" font-size="14.4" stroke="#000" stroke-width="0.3" textLength="88.36" lengthAdjust="spacing">Valid(+20):</text>
<text transform="translate(581.58,42.6) scale(1.06,1)" font-size="14.4" stroke="#000" stroke-width="0.3" textLength="98.51" lengthAdjust="spacing">2025.JAN.21.</text>
<text transform="translate(699.04,42.6) scale(1.06,1)" font-size="14.4" stroke="#000" stroke-width="0.3" textLength="18.04" lengthAdjust="spacing">08</text>
<text transform="translate(729.04,42.6) scale(1.06,1)" font-size="14.4" stroke="#000" stroke-width="0.3" textLength="27.04" lengthAdjust="spacing">UTC</text>
<g shape-rendering="crispEdges">
<polygon points="741.5,108.9 748.8,76 756,108.9" fill="#aaaaaa"/>
<rect x="741.5" y="108.9" width="14.5" height="32.2" fill="#990099"/>
<rect x="741.5" y="140.6" width="14.5" height="32.2" fill="#cc6699"/>
<rect x="741.5" y="172.4" width="14.5" height="32.2" fill="#cc99cc"/>
<rect x="741.5" y="204.1" width="14.5" height="32.2" fill="#ff0000"/>
<rect x="741.5" y="235.8" width="14.5" height="32.2" fill="#ff9900"/>
<rect x="741.5" y="267.6" width="14.5" height="32.2" fill="#ffff00"/>
<rect x="741.5" y="299.3" width="14.5" height="32.2" fill="#3232c8"/>
<rect x="741.5" y="331.0" width="14.5" height="32.2" fill="#50a5f5"/>
<rect x="741.5" y="362.7" width="14.5" height="32.2" fill="#96d2fa"/>
<rect x="741.5" y="394.5" width="14.5" height="32.2" fill="#339933"/>
<rect x="741.5" y="426.2" width="14.5" height="32.2" fill="#66cc66"/>
<rect x="741.5" y="457.9" width="14.5" height="32.2" fill="#99ff99"/>
<polygon points="741.5,489.7 748.8,522 756,489.7" fill="#f0f0f0"/>
<g stroke="#000" stroke-width="1" fill="none">
<polyline points="748.8,76 741.5,108.9 741.5,489.7 748.8,522"/>
<line x1="741" y1="140.5" x2="756" y2="140.5"/>
<line x1="741" y1="172.5" x2="756" y2="172.5"/>
<line x1="741" y1="204.5" x2="756" y2="204.5"/>
<line x1="741" y1="235.5" x2="756" y2="235.5"/>
<line x1="741" y1="267.5" x2="756" y2="267.5"/>
<line x1="741" y1="299.5" x2="756" y2="299.5"/>
<line x1="741" y1="331.5" x2="756" y2="331.5"/>
<line x1="741" y1="362.5" x2="756" y2="362.5"/>
<line x1="741" y1="394.5" x2="756" y2="394.5"/>
<line x1="741" y1="426.5" x2="756" y2="426.5"/>
<line x1="741" y1="457.5" x2="756" y2="457.5"/>
<line x1="741" y1="489.5" x2="756" y2="489.5"/>
</g></g>
<g font-size="11.6" stroke="#000" stroke-width="0.3">
<text x="760.2" y="112.7" letter-spacing="0.3">75</text>
<text x="760.2" y="144.5" letter-spacing="0.3">50</text>
<text x="760.2" y="176.3" letter-spacing="0.3">40</text>
<text x="760.2" y="208.1" letter-spacing="0.3">30</text>
<text x="760.2" y="239.9" letter-spacing="0.3">25</text>
<text x="760.2" y="271.7" letter-spacing="0.3">20</text>
<text x="760.2" y="303.5" letter-spacing="0.3">15</text>
<text x="760.2" y="335.3" letter-spacing="0.3">10</text>
<text x="760.2" y="367.1" letter-spacing="0.3">5</text>
<text x="760.2" y="398.9" letter-spacing="0.3">2</text>
<text x="760.2" y="430.7" letter-spacing="0.3">1</text>
<text x="760.2" y="462.5" letter-spacing="0.3">0.2</text>
<text x="760.2" y="494.3" letter-spacing="0.3">0.1</text>
</g>
</svg></body></html>
